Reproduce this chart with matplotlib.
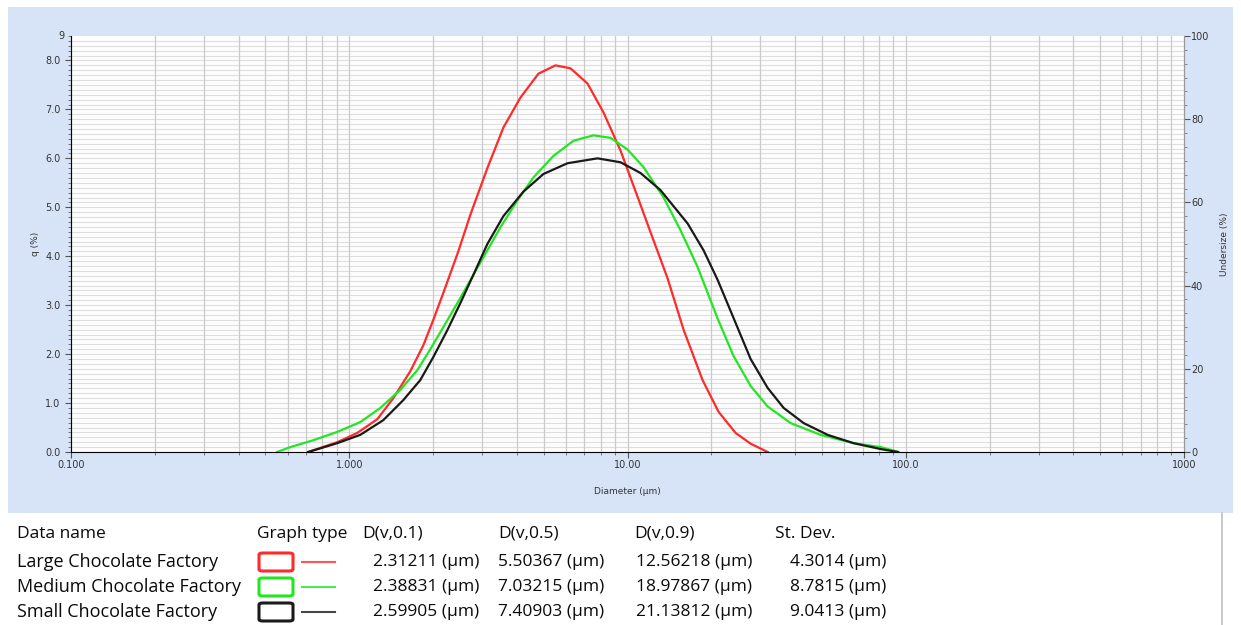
import matplotlib
matplotlib.use("Agg")
import matplotlib.pyplot as plt
import numpy as np
from matplotlib.patches import Rectangle, FancyBboxPatch
from matplotlib.ticker import FixedLocator, NullFormatter, MultipleLocator, LogLocator

# ---------------- data ----------------
large_d = [0.712, 0.905, 1.069, 1.261, 1.440, 1.657, 1.846, 2.005, 2.178, 2.466, 2.725,
           3.136, 3.581, 4.122, 4.786, 5.508, 6.237, 7.179, 8.196, 9.437, 10.86, 12.41,
           13.93, 15.90, 18.61, 21.25, 24.46, 27.70, 31.89]
large_q = [0.0, 0.20, 0.39, 0.67, 1.10, 1.65, 2.18, 2.70, 3.25, 4.10, 4.85,
           5.80, 6.63, 7.24, 7.73, 7.90, 7.84, 7.53, 6.94, 6.16, 5.22, 4.32,
           3.55, 2.50, 1.47, 0.82, 0.39, 0.17, 0.0]

medium_d = [0.551, 0.614, 0.742, 0.905, 1.095, 1.293, 1.526, 1.756, 1.956, 2.178, 2.446,
            2.725, 3.136, 3.493, 4.021, 4.591, 5.418, 6.394, 7.546, 8.687, 10.0, 11.42,
            13.48, 15.51, 17.86, 21.07, 24.06, 27.70, 31.89, 38.59, 49.45, 65.01, 81.30, 94.37]
medium_q = [0.0, 0.10, 0.24, 0.41, 0.61, 0.90, 1.27, 1.67, 2.10, 2.55, 3.04,
            3.51, 4.12, 4.59, 5.14, 5.61, 6.05, 6.36, 6.47, 6.42, 6.18, 5.82,
            5.20, 4.53, 3.78, 2.73, 1.96, 1.35, 0.93, 0.59, 0.35, 0.18, 0.10, 0.0]

small_d = [0.712, 0.905, 1.095, 1.325, 1.564, 1.800, 2.005, 2.252, 2.507, 2.793, 3.136,
           3.581, 4.226, 4.986, 6.084, 7.800, 9.437, 11.14, 13.14, 16.44, 18.77, 21.07,
           23.48, 27.70, 31.89, 36.41, 42.97, 52.41, 65.01, 81.30, 93.59]
small_q = [0.0, 0.18, 0.35, 0.65, 1.06, 1.47, 1.94, 2.49, 3.04, 3.62, 4.25,
           4.82, 5.32, 5.68, 5.90, 6.00, 5.92, 5.70, 5.35, 4.67, 4.12, 3.52,
           2.88, 1.90, 1.31, 0.90, 0.59, 0.35, 0.18, 0.06, 0.0]

series_names = ["Large Chocolate Factory", "Medium Chocolate Factory", "Small Chocolate Factory"]
series_colors = ["#ff2a2a", "#22e622", "#1a1a1a"]
d10 = ["2.31211 (µm)", "2.38831 (µm)", "2.59905 (µm)"]
d50 = ["5.50367 (µm)", "7.03215 (µm)", "7.40903 (µm)"]
d90 = ["12.56218 (µm)", "18.97867 (µm)", "21.13812 (µm)"]
stdev = ["4.3014 (µm)", "8.7815 (µm)", "9.0413 (µm)"]
table_headers = ["Data name", "Graph type", "D(v,0.1)", "D(v,0.5)", "D(v,0.9)", "St. Dev."]

x_ticks = [0.1, 1, 10, 100, 1000]
x_ticklabels = ["0.100", "1.000", "10.00", "100.0", "1000"]
y_ticks = [0, 1, 2, 3, 4, 5, 6, 7, 8]
y_ticklabels = ["0.0", "1.0", "2.0", "3.0", "4.0", "5.0", "6.0", "7.0", "8.0"]
y2_ticks = [0, 20, 40, 60, 80, 100]

# ---------------- figure ----------------
W, H = 1241, 625
fig = plt.figure(figsize=(W / 100, H / 100), dpi=100)
fig.patch.set_facecolor("white")

def fx(px):
    return px / W

def fy(py):
    return 1 - py / H

# blue panel
fig.patches.append(Rectangle((fx(8), fy(513)), fx(1233) - fx(8), fy(7) - fy(513),
                             transform=fig.transFigure, facecolor="#d7e4f8",
                             edgecolor="none", zorder=-5))
# right gray border of table area
fig.add_artist(plt.Line2D([fx(1222), fx(1222)], [fy(513), fy(625)], color="#c0c0c0",
                          lw=1.2, transform=fig.transFigure))

ax = fig.add_axes([fx(71), fy(452), fx(1184) - fx(71), fy(36) - fy(452)])
ax.set_zorder(2)
ax.set_facecolor("#fdfdfd")
ax.set_xscale("log")
ax.set_xlim(0.1, 1000)
ax.set_ylim(0, 8.5)

# grid
for yy in np.arange(0.1, 8.5, 0.1):
    ax.axhline(yy, color="#dedede", lw=0.8, zorder=0)
for dec in [0.1, 1, 10, 100]:
    for m in range(1, 10):
        v = dec * m
        if v <= 0.1:
            continue
        ax.axvline(v, color="#cbcbcb", lw=0.9, zorder=0.5)

for d, q, c in zip([large_d, medium_d, small_d], [large_q, medium_q, small_q], series_colors):
    ax.plot(d, q, color=c, lw=1.6, zorder=3, solid_joinstyle="round")

ax.xaxis.set_major_locator(FixedLocator(x_ticks))
ax.set_xticklabels(x_ticklabels)
ax.xaxis.set_minor_locator(LogLocator(base=10, subs=np.arange(2, 10)))
ax.xaxis.set_minor_formatter(NullFormatter())
ax.yaxis.set_major_locator(FixedLocator(y_ticks))
ax.set_yticklabels(y_ticklabels)
ax.yaxis.set_minor_locator(MultipleLocator(0.1))

ax.tick_params(axis="both", which="major", labelsize=7, colors="#555555",
               labelcolor="#333333", length=4, width=0.8)
ax.tick_params(axis="both", which="minor", length=2, width=0.6, colors="#666666")
ax.tick_params(axis="x", which="both", pad=2)

ax.spines["top"].set_visible(False)
ax.spines["left"].set_color("#888888")
ax.spines["bottom"].set_color("#d0d0d0")
ax.spines["right"].set_color("#999999")

ax.text(-0.006, 1.0, "9", transform=ax.transAxes, ha="right", va="center",
        fontsize=7, color="#333333")
ax.set_xlabel("Diameter (µm)", fontsize=6.5, color="#333333", labelpad=12)
ax.set_ylabel("q (%)", fontsize=6.5, color="#333333", labelpad=4)

ax2 = ax.twinx()
ax2.set_ylim(0, 100)
ax2.yaxis.set_major_locator(FixedLocator(y2_ticks))
ax2.yaxis.set_minor_locator(MultipleLocator(100 / 30))
ax2.tick_params(axis="y", which="major", labelsize=7, colors="#555555",
                labelcolor="#333333", length=4, width=0.8, pad=1)
ax2.tick_params(axis="y", which="minor", length=2, width=0.6, colors="#777777")
ax2.spines["top"].set_visible(False)
ax2.spines["right"].set_color("#999999")
ax2.set_ylabel("Undersize (%)", fontsize=6.5, color="#333333", labelpad=8)

# ---------------- table ----------------
font = "Open Sans"
fs = 12.5
fs_name = 13
header_x = [17, 257, 362, 498, 634, 775]
row_y = [534, 562, 587, 612]
for hx, txt in zip(header_x, table_headers):
    fig.text(fx(hx), fy(row_y[0]), txt, fontsize=fs, family=font, color="#0a0a0a",
             ha="left", va="center")
col_x = [373, 498, 636, 790]
for i, name in enumerate(series_names):
    yy = row_y[i + 1]
    fig.text(fx(17), fy(yy), name, fontsize=fs_name, family=font, color="#0a0a0a",
             ha="left", va="center")
    for cx, vals in zip(col_x, [d10, d50, d90, stdev]):
        fig.text(fx(cx), fy(yy), vals[i], fontsize=fs, family=font, color="#0a0a0a",
                 ha="left", va="center")
    box = FancyBboxPatch((fx(259), fy(yy + 9)), fx(293) - fx(259), fy(yy - 9) - fy(yy + 9),
                         boxstyle="round,pad=0,rounding_size=0.003",
                         transform=fig.transFigure, facecolor="white",
                         edgecolor=series_colors[i], lw=2.2)
    fig.patches.append(box)
    fig.add_artist(plt.Line2D([fx(302), fx(335)], [fy(yy), fy(yy)],
                              color=series_colors[i], lw=1.5, alpha=0.8,
                              transform=fig.transFigure))

fig.savefig("out.png", dpi=100)
